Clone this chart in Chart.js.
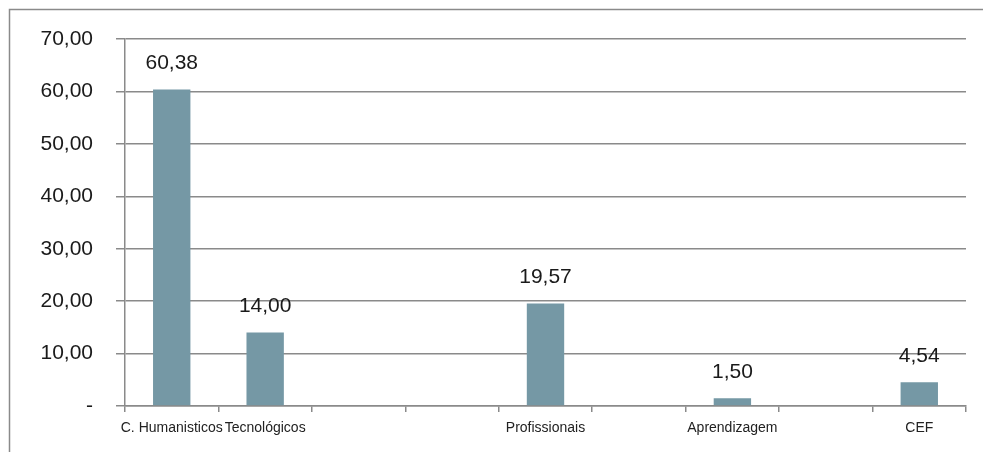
<!DOCTYPE html>
<html>
<head>
<meta charset="utf-8">
<script src="https://cdn.jsdelivr.net/npm/chart.js@4"></script>
<style>
  html, body { margin: 0; padding: 0; background: #fff; }
  #wrap { width: 983px; height: 452px; position: relative; }
</style>
</head>
<body>
<div id="wrap"><canvas id="chart" width="983" height="452"></canvas></div>
<script>
// categories (empty slots keep the gaps seen in the original)
const categories = ["C. Humanisticos", "Tecnológicos", "", "", "Profissionais", "", "Aprendizagem", "", "CEF"];
const percentages = [60.38, 14.00, null, null, 19.57, null, 1.50, null, 4.54];
const yTicks = [0, 10, 20, 30, 40, 50, 60, 70];

const gridColor = "#8a8a8a";
const barColor = "#7598a5";

function fmt(v) {
    if (v === 0) return "-";
    return v.toFixed(2).replace(".", ",");
}

// frame: only the top and left edges show (the picture is cropped)
const framePlugin = {
    id: "frame",
    beforeDraw(chart) {
        const ctx = chart.ctx;
        ctx.save();
        ctx.fillStyle = "#fff";
        ctx.fillRect(0, 0, chart.width, chart.height);
        ctx.strokeStyle = gridColor;
        ctx.lineWidth = 1.5;
        ctx.beginPath();
        ctx.moveTo(chart.width, 9.5);
        ctx.lineTo(9.5, 9.5);
        ctx.lineTo(9.5, chart.height);
        ctx.stroke();
        ctx.restore();
    }
};

// value labels above each bar
const valueLabels = {
    id: "valueLabels",
    afterDatasetsDraw(chart) {
        const ctx = chart.ctx;
        const meta = chart.getDatasetMeta(0);
        ctx.save();
        ctx.font = "21px 'Liberation Sans'";
        ctx.fillStyle = "#1a1a1a";
        ctx.textAlign = "center";
        ctx.textBaseline = "middle";
        meta.data.forEach((bar, i) => {
            const v = percentages[i];
            if (v === null) return;
            ctx.fillText(fmt(v), bar.x, bar.y - 26);
        });
        ctx.restore();
    }
};

new Chart(document.getElementById("chart"), {
    type: "bar",
    data: {
        labels: categories,
        datasets: [{
            data: percentages,
            backgroundColor: barColor,
            barPercentage: 0.4,
            categoryPercentage: 1.0
        }]
    },
    options: {
        responsive: false,
        animation: false,
        layout: { padding: { top: 39, right: 17, bottom: 0, left: 0 } },
        plugins: {
            legend: { display: false },
            tooltip: { enabled: false }
        },
        scales: {
            x: {
                offset: true,
                grid: {
                    offset: true,
                    drawOnChartArea: false,
                    drawTicks: true,
                    tickLength: 6,
                    color: gridColor,
                    lineWidth: 1.5
                },
                border: { color: gridColor, width: 1.5 },
                ticks: {
                    color: "#222",
                    font: { family: "'Liberation Sans'", size: 14 },
                    padding: 8,
                    maxRotation: 0,
                    autoSkip: false
                },
                afterFit(scale) { scale.height = 46; }
            },
            y: {
                min: 0,
                max: 70,
                afterBuildTicks(scale) {
                    scale.ticks = yTicks.map(v => ({ value: v }));
                },
                grid: {
                    color: gridColor,
                    lineWidth: 1.5,
                    tickLength: 9
                },
                border: { color: gridColor, width: 1.5 },
                ticks: {
                    color: "#1a1a1a",
                    font: { family: "'Liberation Sans'", size: 21 },
                    padding: 23,
                    callback: v => fmt(v)
                },
                afterFit(scale) { scale.width = 125; }
            }
        }
    },
    plugins: [framePlugin, valueLabels]
});
</script>
</body>
</html>
